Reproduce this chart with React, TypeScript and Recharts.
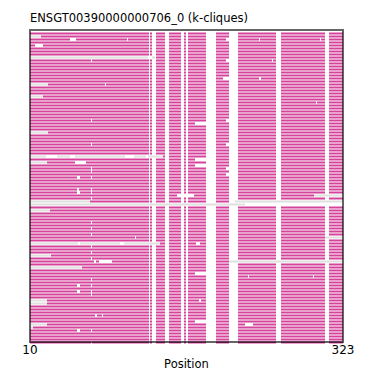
import { BarChart, Bar, XAxis, YAxis, Cell, Label } from 'recharts';

const FIRST_POS = 10;
const LAST_POS = 323;
const ROW_COUNT = 104;

const MAGENTA = '#d5439a';
const GREY = '#e0e0e0';
const FONT = 'DejaVu Sans, sans-serif';

// alignment columns that are gaps in nearly every sequence
const sharedGapStarts = [129, 132, 145, 161, 166, 186, 209, 256, 305];
const sharedGapEnds = [130, 136, 149, 164, 168, 196, 218, 261, 309];

// sequences that start late (grey leading gap)
const leadRows = [1, 8, 17, 21, 33, 41, 43, 56, 57, 59, 70, 74, 78, 89, 90, 97, 98];
const leadEnds = [21, 135, 28, 23, 28, 143, 27, 70, 225, 30, 140, 31, 62, 27, 27, 27, 13];

// sequences that stop early (grey trailing gap)
const tailRows = [54, 56, 68, 76];
const tailStarts = [294, 215, 305, 209];

// other gaps, one entry per gap
const gapRows = [
  2, 2, 2, 2, 2, 4, 8, 9, 9, 9, 15, 15, 17, 23, 29, 29, 30, 37, 37,
  41, 41, 41, 41, 42, 43, 44, 45, 45, 46, 47, 48, 48, 52, 52, 53, 53,
  54, 55, 57, 63, 65, 67, 68, 70, 70, 70, 71, 73, 75, 76, 76, 80, 81,
  81, 82, 84, 84, 86, 86, 87, 89, 94, 94, 96, 97, 99, 99, 103,
];
const gapStarts = [
  50, 107, 206, 239, 300, 15, 128, 71, 206, 252, 203, 239, 85, 296, 71, 206, 175, 71, 206,
  26, 50, 105, 126, 175, 55, 175, 71, 206, 71, 206, 57, 71, 57, 71, 57, 71,
  157, 71, 225, 71, 71, 71, 115, 58, 100, 176, 71, 71, 71, 74, 79, 175, 228,
  293, 71, 57, 71, 57, 71, 71, 179, 75, 82, 175, 225, 57, 71, 71,
];
const gapEnds = [
  56, 108, 209, 240, 301, 23, 132, 72, 209, 253, 209, 241, 86, 297, 72, 209, 186, 72, 209,
  37, 55, 114, 128, 186, 66, 186, 72, 209, 72, 209, 60, 72, 59, 72, 60, 72,
  174, 72, 323, 72, 72, 72, 116, 60, 104, 180, 72, 72, 72, 76, 92, 186, 229,
  294, 72, 60, 72, 60, 72, 72, 181, 77, 83, 186, 233, 60, 72, 72,
];

type Seg = { len: number; fill: string };

function buildRow(row: number): Seg[] {
  const n = LAST_POS - FIRST_POS;
  const cells: number[] = new Array(n).fill(1);
  const paint = (from: number, to: number, v: number) => {
    for (let p = Math.max(from, FIRST_POS); p < Math.min(to, LAST_POS); p++) cells[p - FIRST_POS] = v;
  };
  sharedGapStarts.forEach((s, k) => paint(s, sharedGapEnds[k], 0));
  const li = leadRows.indexOf(row);
  if (li >= 0) paint(FIRST_POS, leadEnds[li], 2);
  const ti = tailRows.indexOf(row);
  if (ti >= 0) paint(tailStarts[ti], LAST_POS, 2);
  gapRows.forEach((r, k) => {
    if (r === row) paint(gapStarts[k], gapEnds[k], 0);
  });

  const segs: Seg[] = [];
  let start = 0;
  for (let c = 1; c <= n; c++) {
    if (c === n || cells[c] !== cells[start]) {
      const v = cells[start];
      segs.push({ len: c - start, fill: v === 1 ? MAGENTA : v === 2 ? GREY : 'none' });
      start = c;
    }
  }
  return segs;
}

const rows = Array.from({ length: ROW_COUNT }, (_, i) => buildRow(i));
const maxSegs = Math.max(...rows.map((r) => r.length));
const segKeys = Array.from({ length: maxSegs }, (_, k) => `s${k}`);

const data = rows.map((segs, i) => {
  const o: Record<string, number> = { row: i, base: FIRST_POS };
  segKeys.forEach((key, k) => {
    o[key] = segs[k] ? segs[k].len : 0;
  });
  return o;
});

export default function App() {
  return (
    <div style={{ position: 'absolute', left: 0, top: 0, width: 373, height: 372 }}>
      <div
        style={{
          position: 'absolute',
          left: 30,
          top: 13,
          fontFamily: FONT,
          fontSize: 11.5,
          lineHeight: 1,
          color: '#000',
          whiteSpace: 'nowrap',
        }}
      >
        ENSGT00390000000706_0 (k-cliques)
      </div>
      <BarChart
        width={373}
        height={372}
        layout="vertical"
        data={data}
        margin={{ top: 31.5, right: 30, bottom: 0, left: 30 }}
        barCategoryGap={0}
      >
        <XAxis
          type="number"
          domain={[FIRST_POS, LAST_POS]}
          allowDataOverflow
          ticks={[10, 323]}
          interval={0}
          tickLine={false}
          axisLine={false}
          tickSize={0}
          tickMargin={2}
          height={28.5}
          tick={{ fontSize: 12, fill: '#000', fontFamily: FONT }}
        >
          <Label value="Position" position="insideBottom" offset={4} fontSize={11.5} fill="#000" fontFamily={FONT} />
        </XAxis>
        <YAxis type="category" dataKey="row" hide />
        <Bar dataKey="base" stackId="r" fill="none" barSize={2} isAnimationActive={false} />
        {segKeys.map((key, k) => (
          <Bar key={key} dataKey={key} stackId="r" barSize={2} isAnimationActive={false}>
            {rows.map((segs, i) => (
              <Cell key={i} fill={segs[k] ? segs[k].fill : 'none'} />
            ))}
          </Bar>
        ))}
      </BarChart>
      <div
        style={{
          position: 'absolute',
          left: 29,
          top: 29,
          width: 315,
          height: 314,
          border: '2px solid rgba(0,0,0,0.6)',
          boxSizing: 'border-box',
          pointerEvents: 'none',
        }}
      />
    </div>
  );
}
